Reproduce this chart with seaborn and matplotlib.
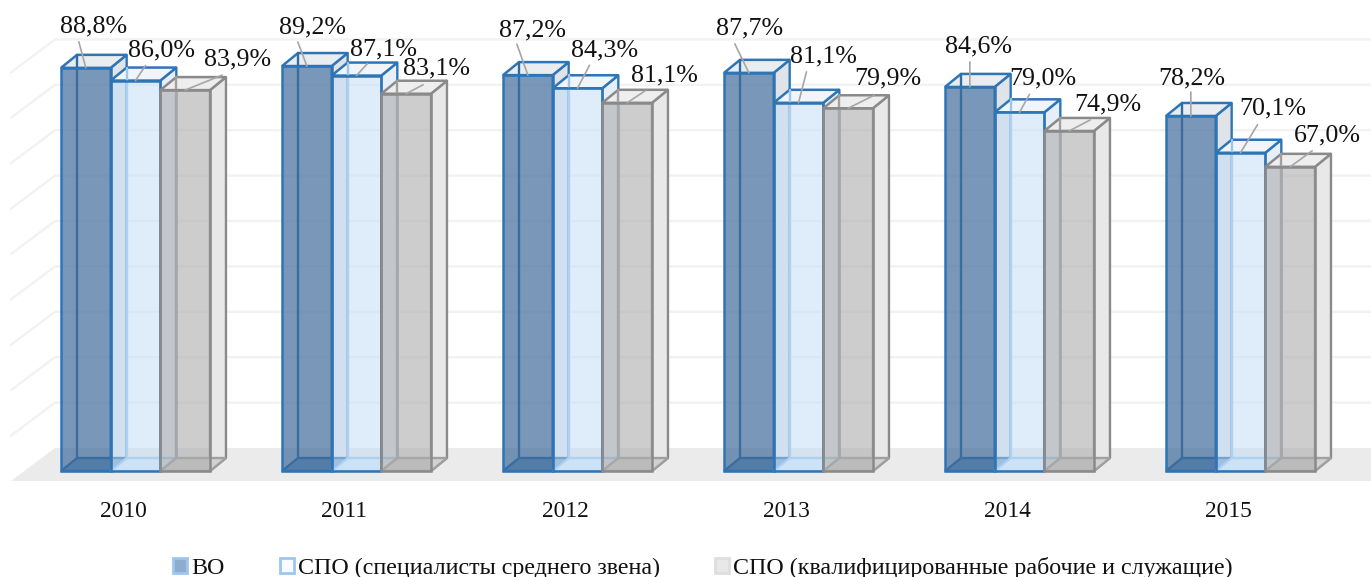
#!/usr/bin/env python3
# -*- coding: utf-8 -*-

import pandas as pd
import matplotlib
matplotlib.use("Agg")
import matplotlib.pyplot as plt
from matplotlib.patches import Patch, Polygon
import seaborn as sns

# -----------------------------------------------------------------------------
# Data
# -----------------------------------------------------------------------------
YEARS = ["2010", "2011", "2012", "2013", "2014", "2015"]
SERIES = ["ВО", "СПО (специалисты среднего звена)", "СПО (квалифицированные рабочие и служащие)"]
VO = [88.8, 89.2, 87.2, 87.7, 84.6, 78.2]
SPO_MID = [86.0, 87.1, 84.3, 81.1, 79.0, 70.1]
SPO_WORK = [83.9, 83.1, 81.1, 79.9, 74.9, 67.0]
GRID_VALUES = [10, 20, 30, 40, 50, 60, 70, 80, 90]

# label centre and leader start, in pixels from the top centre of each bar
LABEL_OFFSETS = [
    [(8, 41), (6, 39), (5, 45), (1, 44), (9, 40), (1, 38)],
    [(26, 30), (27, 26), (27, 38), (25, 46), (23, 34), (32, 44)],
    [(52, 31), (30, 25), (37, 27), (40, 30), (39, 27), (37, 31)],
]
LEADER_OFFSETS = [
    [(-7, 26), (-9, 24), (-11, 31), (-14, 29), (0, 25), (0, 24)],
    [(10, 15), (11, 12), (12, 23), (8, 31), (10, 18), (17, 28)],
    [(37, 15), (17, 9), (18, 12), (26, 13), (21, 11), (22, 16)],
]

# -----------------------------------------------------------------------------
# Style
# -----------------------------------------------------------------------------
PX_W = 221.0      # pixels per category
PX_V = 4.54       # pixels per percent
DEPTH_X = 16 / PX_W
DEPTH_Y = 13 / PX_V

FRONT = [(0.255, 0.427, 0.612, 0.70), (0.757, 0.867, 0.969, 0.50), (0.675, 0.675, 0.675, 0.60)]
EDGE = ["#2e75b6", "#2e75b6", "#8a8a8a"]
BACK_EDGE = ["#2f6ca6", "#9dc6ea", "#a0a0a0"]
SIDE = ["#e0e4e8", "#e6eff8", "#e8e8e8"]
TOP = ["#eaedf0", "#f1f4f8", "#eeeeee"]
BOTTOM = ["#7fa3c8", "#d7e8f8", "#d2d2d2"]
SWATCH_FILL = ["#8eaccd", "#f8fbff", "#e8e8e8"]
SWATCH_EDGE = ["#9cc8f0", "#9cc8f0", "#dedede"]

sns.set_style("white")
plt.rcParams["font.family"] = ["Liberation Serif", "DejaVu Serif"]

df = pd.DataFrame({
    "year": YEARS * 3,
    "series": [s for s in SERIES for _ in YEARS],
    "value": VO + SPO_MID + SPO_WORK,
})

fig = plt.figure(figsize=(13.71, 5.77), dpi=100)
ax = fig.add_axes([0, 96 / 577, 1, 481 / 577])

sns.barplot(
    data=df, x="year", y="value", hue="series", hue_order=SERIES,
    palette=SWATCH_FILL, width=0.674, gap=0, saturation=1, legend=False, ax=ax,
)

ax.set_xlim(-135.5 / PX_W, (1371 - 135.5) / PX_W)
ax.set_ylim(-10 / PX_V, 471 / PX_V)

# floor and back wall lines
x_front, x_back = -124.5 / PX_W, -80.5 / PX_W
y_front, y_back = -10 / PX_V, 23 / PX_V
x_end = ax.get_xlim()[1]
ax.add_patch(Polygon([(x_front, y_front), (x_back, y_back), (x_end, y_back), (x_end, y_front)],
                     closed=True, fc="#ebebeb", ec="none", zorder=1))
for v in GRID_VALUES:
    ax.plot([x_front, x_back, x_end], [v + y_front, v + y_back, v + y_back],
            color="#f2f2f2", lw=1.7, zorder=1)

# fake 3D boxes round the seaborn bars
for s, container in enumerate(ax.containers):
    z = 3 + s
    for i, bar in enumerate(container):
        x0, w, h = bar.get_x(), bar.get_width(), bar.get_height()
        x1 = x0 + w
        bx0, bx1, by0, byh = x0 + DEPTH_X, x1 + DEPTH_X, DEPTH_Y, h + DEPTH_Y

        ax.add_patch(Polygon([(x1, 0), (bx1, by0), (bx1, byh), (x1, h)],
                             fc=SIDE[s], ec=EDGE[s], lw=1.7, zorder=z, joinstyle="round"))
        ax.add_patch(Polygon([(x0, 0), (x1, 0), (bx1, by0), (bx0, by0)],
                             fc=BOTTOM[s], ec=BACK_EDGE[s], lw=1.7, zorder=z))
        ax.add_patch(Polygon([(x0, h), (x1, h), (bx1, byh), (bx0, byh)],
                             fc=TOP[s], ec=EDGE[s], lw=1.8, zorder=z))
        ax.plot([bx0, bx0], [by0, byh], color=BACK_EDGE[s], lw=1.7, zorder=z)

        bar.set_facecolor(FRONT[s])
        bar.set_edgecolor(EDGE[s])
        bar.set_linewidth(1.8)
        bar.set_zorder(z + 0.5)

        # leader and value label
        cx = x0 + w / 2
        ax.annotate("", xy=(cx, h), xytext=LEADER_OFFSETS[s][i], textcoords="offset pixels",
                    arrowprops=dict(arrowstyle="-", color="#a6a6a6", lw=1.2,
                                    shrinkA=0, shrinkB=0),
                    zorder=10, annotation_clip=False)
        ax.annotate(f"{h:.1f}%".replace(".", ","), xy=(cx, h),
                    xytext=LABEL_OFFSETS[s][i], textcoords="offset pixels",
                    ha="center", va="center", fontsize=18.7, color="#111111", zorder=11)

ax.set_xticks([i - 12.5 / PX_W for i in range(len(YEARS))])
ax.set_xticklabels(YEARS, fontsize=16.9, color="#111111")
ax.tick_params(axis="x", length=0, pad=14.5)
ax.set_yticks([])
ax.set_xlabel("")
ax.set_ylabel("")
sns.despine(ax=ax, left=True, bottom=True)

handles = [Patch(fc=SWATCH_FILL[k], ec=SWATCH_EDGE[k], lw=2) for k in range(3)]
fig.legend(
    handles, SERIES, loc="center", bbox_to_anchor=(703 / 1371, 1 - 568 / 577), ncol=3,
    frameon=False, fontsize=17.25, labelcolor="#111111", columnspacing=2.3,
    handletextpad=0.18, handlelength=0.58, handleheight=0.58, borderpad=0, borderaxespad=0,
)

fig.savefig("out.png", dpi=100)
